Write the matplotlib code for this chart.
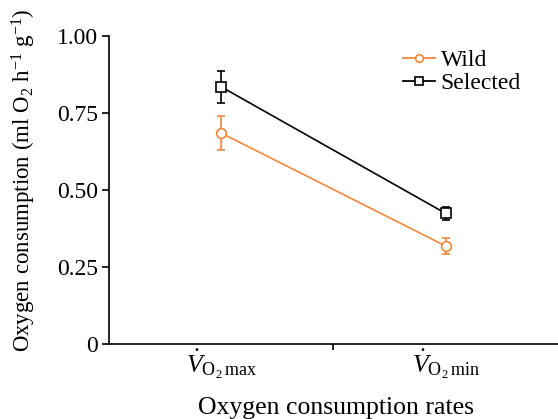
import matplotlib
matplotlib.use("Agg")
import matplotlib.pyplot as plt
from matplotlib.lines import Line2D

plt.rcParams['font.family'] = ['Liberation Serif', 'DejaVu Serif']
plt.rcParams['mathtext.fontset'] = 'custom'
plt.rcParams['mathtext.rm'] = 'Liberation Serif'
plt.rcParams['mathtext.it'] = 'Liberation Serif:italic'
plt.rcParams['mathtext.bf'] = 'Liberation Serif:bold'

categories = [r"$\dot{V}_{\mathrm{O}_2\,\mathrm{max}}$", r"$\dot{V}_{\mathrm{O}_2\,\mathrm{min}}$"]
wild = [0.685, 0.318]
wild_err = [0.055, 0.025]
selected = [0.835, 0.424]
selected_err = [0.052, 0.022]

orange = '#F0883A'

fig = plt.figure(figsize=(5.58, 4.19), dpi=100)
ax = fig.add_axes([0.1953, 0.179, 0.8047, 0.735])
x = [1, 2]
for vals, errs, col, mk, ms in [(wild, wild_err, orange, 'o', 7), (selected, selected_err, 'black', 's', 6.5)]:
    ax.errorbar(x, vals, yerr=errs, fmt='none', ecolor=col, capsize=2.8,
                elinewidth=1.2, capthick=1.2, zorder=2)
    ax.plot(x, vals, color=col, marker=mk, markersize=ms, markerfacecolor='white',
            markeredgecolor=col, markeredgewidth=1.2, linewidth=1.2, zorder=3)

ax.set_xlim(0.5, 2.5)
ax.set_ylim(0, 1.0)
ax.set_yticks([0, 0.25, 0.5, 0.75, 1.0])
ax.set_yticklabels(['0', '0.25', '0.50', '0.75', '1.00'])
ax.set_xticks([1.5])
ax.set_xticklabels([''])
ax.set_xticks(x, minor=True)
ax.set_xticklabels(categories, minor=True)
ax.tick_params(axis='x', which='minor', length=0, pad=3, labelsize=18.5)
ax.tick_params(axis='x', which='major', length=4, width=1.2, direction='out')
ax.tick_params(axis='y', length=5, width=1.2, direction='out', labelsize=17, pad=3)
for s in ['top', 'right']:
    ax.spines[s].set_visible(False)
for s in ['left', 'bottom']:
    ax.spines[s].set_linewidth(1.2)

ax.set_ylabel(r"Oxygen consumption (ml O$_2$ h$^{-1}$ g$^{-1}$)", fontsize=16.5)
ax.yaxis.set_label_coords((38 - 109) / 449, 0.532)
fig.text(336 / 558, 5 / 419, "Oxygen consumption rates", fontsize=18.5,
         ha='center', va='baseline')

handles = [Line2D([], [], color=orange, marker='o', markersize=5.5, markerfacecolor='white',
                  markeredgecolor=orange, markeredgewidth=1.2, linewidth=1.3),
           Line2D([], [], color='black', marker='s', markersize=5.5, markerfacecolor='white',
                  markeredgecolor='black', markeredgewidth=1.2, linewidth=1.3)]
ax.legend(handles, ['Wild', 'Selected'], loc='upper left', bbox_to_anchor=(0.655, 0.955),
          frameon=False, fontsize=17, handlelength=1.35, handletextpad=0.25,
          labelspacing=0.05, borderaxespad=0, borderpad=0)

fig.savefig('out.png', dpi=100)
